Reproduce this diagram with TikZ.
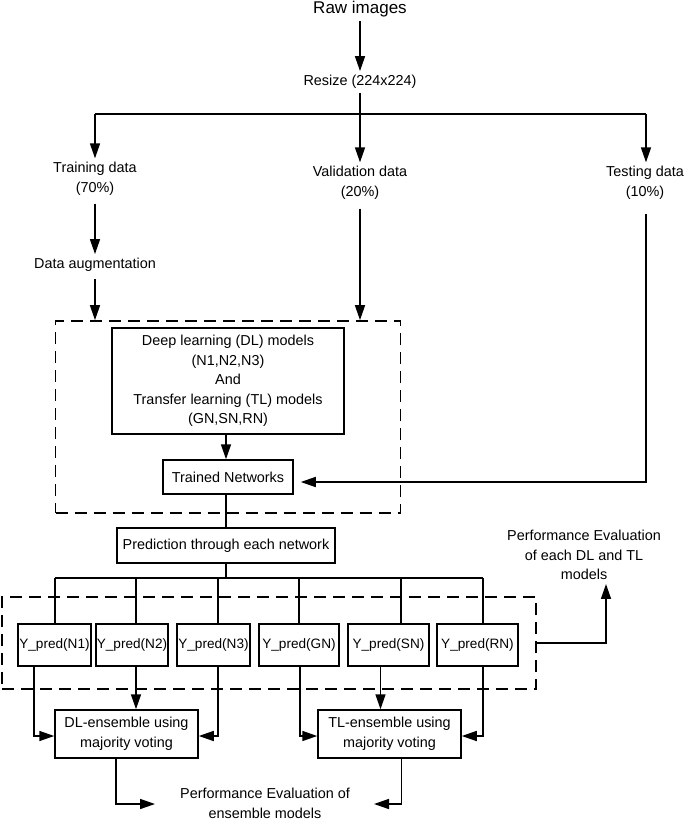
\documentclass[tikz,border=0pt]{standalone}
\usepackage{fontspec}
\setmainfont{Liberation Sans}
\usetikzlibrary{arrows.meta}
\begin{document}
\begin{tikzpicture}[x=1pt,y=-1pt,
  every node/.style={font=\fontsize{14.4}{19.5}\selectfont},
  txt/.style={inner sep=4pt, align=center},
  bx/.style={draw, line width=1.5pt, fill=white, align=center, inner sep=1pt},
  ybx/.style={bx, inner xsep=0pt, minimum height=42pt, font=\fontsize{13.6}{17}\selectfont},
  dbox/.style={draw, line width=1.7pt, dash pattern=on 12pt off 7pt, inner sep=0pt},
  ln/.style={line width=1.5pt},
  arr/.style={line width=1.5pt, -{Triangle[length=15pt,width=10pt]}}]
\useasboundingbox (0,0) rectangle (685,820);

% top part
\node[txt, font=\fontsize{17}{20}\selectfont] (raw) at (360,9) {Raw images};
\node[txt] (resize) at (360,82) {Resize (224x224)};
\coordinate (split) at (360,114);
\coordinate (lbus) at (95,114);
\coordinate (rbus) at (646,114);
\node[txt] (train) at (95,179) {Training data\\(70\%)};
\node[txt] (valid) at (360,183) {Validation data\\(20\%)};
\node[txt] (test) at (645,183) {Testing data\\(10\%)};
\node[txt] (aug) at (95,265) {Data augmentation};

\draw[arr] (raw) -- (resize);
\draw[ln] (resize) -- (split);
\draw[ln] (lbus) -- (rbus);
\draw[arr] (lbus) -- (train);
\draw[arr] (split) -- (valid);
\draw[arr] (rbus) -- ([xshift=1pt]test.north);
\draw[arr] ([yshift=-4pt]train.south) -- (aug);

% training block
\node[dbox, minimum width=345pt, minimum height=192pt] (dash1) at (228,417) {};
\node[bx, minimum width=232pt, minimum height=106pt] (dlm) at (228,381)
  {Deep learning (DL) models\\(N1,N2,N3)\\And\\Transfer learning (TL) models\\(GN,SN,RN)};
\node[bx, minimum width=130pt, minimum height=34pt] (trained) at (228,477) {Trained Networks};
\node[bx, minimum width=218pt, minimum height=35pt] (pred) at (226,545.5) {Prediction through each network};

\draw[arr] ([yshift=-3pt]aug.south) -- (aug.south |- dash1.north);
\draw[arr] ([yshift=-5pt]valid.south) -- (valid.south |- dash1.north);
\draw[arr] ([xshift=-2pt]dlm.south) -- ([xshift=-2pt]trained.north);
\draw[arr] ([xshift=1pt,yshift=-10pt]test.south) |- ([xshift=7pt,yshift=-5pt]trained.east);
\draw[ln] ([xshift=-2pt]trained.south) -- (pred.north);

% predictions
\coordinate (pbus) at (226,578);
\coordinate (b1) at (55,578);
\coordinate (b6) at (483,578);
\node[dbox, minimum width=534pt, minimum height=92pt] (dash2) at (269,643) {};
\node[ybx, minimum width=73pt] (n1) at (54.5,645) {Y\_pred(N1)};
\node[ybx, minimum width=72pt] (n2) at (132,645) {Y\_pred(N2)};
\node[ybx, minimum width=73pt] (n3) at (213.5,645) {Y\_pred(N3)};
\node[ybx, minimum width=80pt] (gn) at (299,645) {Y\_pred(GN)};
\node[ybx, minimum width=81pt] (sn) at (388.5,645) {Y\_pred(SN)};
\node[ybx, minimum width=81pt] (rn) at (477.5,645) {Y\_pred(RN)};

\draw[ln] (pred.south) -- (pbus);
\draw[ln] (b1) -- (b6);
\draw[ln] (b1) -- (b1 |- n1.north);
\draw[ln] ([xshift=4pt]n2.north |- pbus) -- ([xshift=4pt]n2.north);
\draw[ln] ([xshift=4.5pt]n3.north |- pbus) -- ([xshift=4.5pt]n3.north);
\draw[ln] (gn.north |- pbus) -- (gn.north);
\draw[ln] ([xshift=12.5pt]sn.north |- pbus) -- ([xshift=12.5pt]sn.north);
\draw[ln] (b6) -- (b6 |- rn.north);

\node[txt] (perf1) at (584,555) {Performance Evaluation\\of each DL and TL\\models};
\draw[arr] (dash2.east) -| ([xshift=22pt]perf1.south);

% ensembles
\node[bx, minimum width=143pt, minimum height=48pt] (dl) at (126.5,734) {DL-ensemble using\\majority voting};
\node[bx, minimum width=143pt, minimum height=48pt] (tl) at (389.5,734) {TL-ensemble using\\majority voting};

\draw[arr] ([xshift=-20.5pt]n1.south) |- ([yshift=-2pt]dl.west);
\draw[arr] ([xshift=4pt]n2.south) -- ([xshift=4pt]n2.south |- dl.north);
\draw[arr] ([xshift=4.5pt]n3.south) |- ([yshift=-2pt]dl.east);
\draw[arr] ([xshift=1pt]gn.south) |- ([yshift=-2pt]tl.west);
\draw[arr] ([xshift=-8pt]sn.south) -- ([xshift=-8pt]sn.south |- tl.north);
\draw[arr] ([xshift=5.5pt]rn.south) |- ([yshift=-2pt]tl.east);

\node[txt] (perf2) at (265,803.5) {Performance Evaluation of\\ensemble models};
\coordinate (pl) at (155,804);
\coordinate (pr) at (374,804);
\draw[arr] ([xshift=-10.5pt]dl.south) |- (pl);
\draw[arr] ([xshift=12pt]tl.south) |- (pr);
\end{tikzpicture}
\end{document}
